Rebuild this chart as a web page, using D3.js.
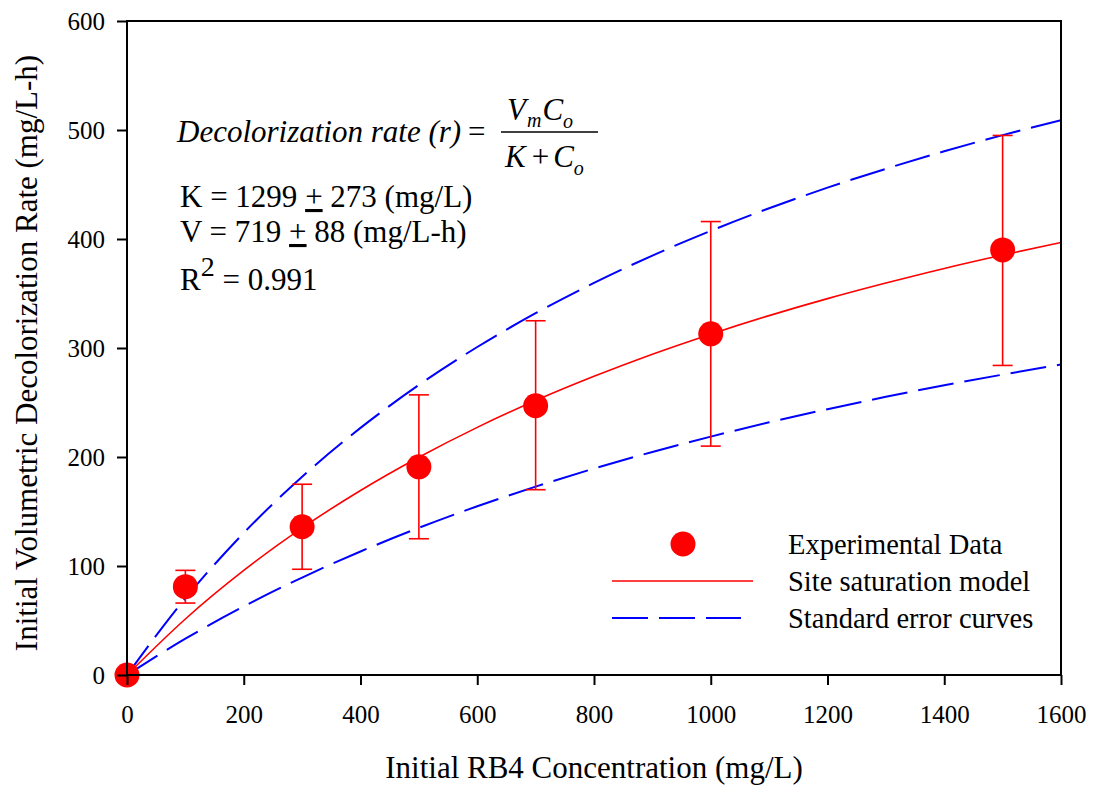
<!DOCTYPE html>
<html>
<head>
<meta charset="utf-8">
<script src="https://cdn.jsdelivr.net/npm/d3@7"></script>
<style>
  body { margin: 0; background: #fff; }
  text { font-family: "Liberation Serif", "Times New Roman", serif; fill: #000; }
</style>
</head>
<body>
<div id="chart"></div>
<script>
// experimental points
const conc = [0, 100, 300, 500, 700, 1000, 1500];
const rate = [0, 81, 136, 191, 247, 313, 390];
const errLow = [0, 66, 97, 125, 170, 210, 284];
const errHigh = [0, 96, 175, 257, 325, 416, 495];

// curves, sampled every 100 mg/L
const curveX = [0, 100, 200, 300, 400, 500, 600, 700, 800, 900, 1000, 1100, 1200, 1300, 1400, 1500, 1600];
const modelY = [0, 51.4, 95.9, 134.9, 169.3, 199.8, 227.2, 251.8, 274.0, 294.3, 312.7, 329.7, 345.3, 359.6, 373.0, 385.3, 396.8];
const upperY = [0, 70.4, 130.3, 181.9, 226.7, 266.1, 300.9, 331.9, 359.7, 384.8, 407.5, 428.2, 447.1, 464.4, 480.5, 495.3, 508.9];
const lowerY = [0, 33.3, 62.9, 89.4, 113.3, 135.0, 154.8, 172.8, 189.4, 204.6, 218.7, 231.8, 243.9, 255.2, 265.8, 275.6, 284.9];

const xTicks = [0, 200, 400, 600, 800, 1000, 1200, 1400, 1600];
const yTicks = [0, 100, 200, 300, 400, 500, 600];

const width = 1098, height = 785;
const margin = {left: 127, right: 37, top: 21, bottom: 110};

const svg = d3.select("#chart").append("svg")
    .attr("width", width)
    .attr("height", height);

const x = d3.scaleLinear().domain([0, 1600]).range([margin.left, width - margin.right]);
const y = d3.scaleLinear().domain([0, 600]).range([height - margin.bottom, margin.top]);

// clip for curves
svg.append("clipPath").attr("id", "clip")
  .append("rect")
    .attr("x", x(0)).attr("y", y(600))
    .attr("width", x(1600) - x(0)).attr("height", y(0) - y(600));

const line = d3.line()
    .x(d => x(d[0]))
    .y(d => y(d[1]))
    .curve(d3.curveMonotoneX);

const plot = svg.append("g").attr("clip-path", "url(#clip)");

plot.append("path")
    .datum(curveX.map((c, i) => [c, upperY[i]]))
    .attr("d", line)
    .attr("fill", "none").attr("stroke", "#0000ff").attr("stroke-width", 2)
    .attr("stroke-dasharray", "36,11");

plot.append("path")
    .datum(curveX.map((c, i) => [c, lowerY[i]]))
    .attr("d", line)
    .attr("fill", "none").attr("stroke", "#0000ff").attr("stroke-width", 2)
    .attr("stroke-dasharray", "36,11");

plot.append("path")
    .datum(curveX.map((c, i) => [c, modelY[i]]))
    .attr("d", line)
    .attr("fill", "none").attr("stroke", "#ff0000").attr("stroke-width", 1.6);

// error bars
const pts = conc.map((c, i) => ({c: c, r: rate[i], lo: errLow[i], hi: errHigh[i]}));
const eb = svg.append("g").attr("stroke", "#ff0000").attr("stroke-width", 1.6);
pts.filter(d => d.hi > d.lo).forEach(d => {
  eb.append("line").attr("x1", x(d.c)).attr("x2", x(d.c)).attr("y1", y(d.lo)).attr("y2", y(d.hi));
  eb.append("line").attr("x1", x(d.c) - 10).attr("x2", x(d.c) + 10).attr("y1", y(d.lo)).attr("y2", y(d.lo));
  eb.append("line").attr("x1", x(d.c) - 10).attr("x2", x(d.c) + 10).attr("y1", y(d.hi)).attr("y2", y(d.hi));
});

svg.append("g").selectAll("circle")
  .data(pts)
  .join("circle")
    .attr("cx", d => x(d.c))
    .attr("cy", d => y(d.r))
    .attr("r", 12.5)
    .attr("fill", "#ff0000");

// frame + axes
svg.append("rect")
    .attr("x", x(0)).attr("y", y(600))
    .attr("width", x(1600) - x(0)).attr("height", y(0) - y(600))
    .attr("fill", "none").attr("stroke", "#000").attr("stroke-width", 2);

const xAxis = svg.append("g")
    .attr("transform", `translate(0,${y(0)})`)
    .call(d3.axisBottom(x).tickValues(xTicks).tickSize(10).tickPadding(20).tickFormat(d3.format("d")));
const yAxis = svg.append("g")
    .attr("transform", `translate(${x(0)},0)`)
    .call(d3.axisLeft(y).tickValues(yTicks).tickSize(10).tickPadding(12).tickFormat(d3.format("d")));

[xAxis, yAxis].forEach(a => {
  a.select(".domain").remove();
  a.selectAll(".tick line").attr("stroke", "#000").attr("stroke-width", 2);
  a.selectAll(".tick text")
    .style("font-family", '"Liberation Serif", serif')
    .style("font-size", "25px")
    .attr("fill", "#000");
});

// axis titles
svg.append("text")
    .attr("x", (x(0) + x(1600)) / 2)
    .attr("y", 778)
    .attr("text-anchor", "middle")
    .style("font-size", "31px")
    .text("Initial RB4 Concentration (mg/L)");

svg.append("text")
    .attr("transform", `translate(37,${(y(0) + y(600)) / 2 + 5}) rotate(-90)`)
    .attr("text-anchor", "middle")
    .style("font-size", "31px")
    .text("Initial Volumetric Decolorization Rate (mg/L-h)");

// equation
const eq = svg.append("g").style("font-size", "31px");
eq.append("text")
    .attr("x", 177).attr("y", 142)
    .style("font-style", "italic")
    .text("Decolorization rate (r)");
eq.append("text")
    .attr("x", 468).attr("y", 142)
    .text("=");
const num = eq.append("text").attr("x", 507).attr("y", 120).style("font-style", "italic");
num.append("tspan").text("V");
num.append("tspan").attr("dy", 7).attr("dx", 1).style("font-size", "20px").text("m");
num.append("tspan").attr("dy", -7).attr("dx", 1).text("C");
num.append("tspan").attr("dy", 8).style("font-size", "20px").text("o");
eq.append("line")
    .attr("x1", 501).attr("x2", 598).attr("y1", 132).attr("y2", 132)
    .attr("stroke", "#000").attr("stroke-width", 1.5);
const den = eq.append("text").attr("x", 505).attr("y", 167).style("font-style", "italic");
den.append("tspan").text("K");
den.append("tspan").style("font-style", "normal").attr("dx", 6).text("+");
den.append("tspan").attr("dx", 4).text("C");
den.append("tspan").attr("dy", 8).style("font-size", "20px").text("o");

const kLine = eq.append("text").attr("x", 180).attr("y", 207);
kLine.append("tspan").text("K = 1299 ");
kLine.append("tspan").style("text-decoration", "underline").text("+");
kLine.append("tspan").text(" 273 (mg/L)");

const vLine = eq.append("text").attr("x", 180).attr("y", 242);
vLine.append("tspan").text("V = 719 ");
vLine.append("tspan").style("text-decoration", "underline").text("+");
vLine.append("tspan").text(" 88 (mg/L-h)");

const rLine = eq.append("text").attr("x", 180).attr("y", 290);
rLine.append("tspan").text("R");
rLine.append("tspan").attr("dy", -14).style("font-size", "28px").text("2");
rLine.append("tspan").attr("dy", 14).text(" = 0.991");

// legend
const leg = svg.append("g");
leg.append("circle").attr("cx", 683).attr("cy", 544).attr("r", 12.5).attr("fill", "#ff0000");
leg.append("line").attr("x1", 612).attr("x2", 753).attr("y1", 581).attr("y2", 581)
    .attr("stroke", "#ff0000").attr("stroke-width", 1.6);
leg.append("line").attr("x1", 612).attr("x2", 741).attr("y1", 618).attr("y2", 618)
    .attr("stroke", "#0000ff").attr("stroke-width", 2).attr("stroke-dasharray", "36,11");
const legLabels = ["Experimental Data", "Site saturation model", "Standard error curves"];
leg.selectAll("text.lab")
  .data(legLabels)
  .join("text")
    .attr("class", "lab")
    .attr("x", 788)
    .attr("y", (d, i) => 554 + i * 37)
    .style("font-size", "28.5px")
    .text(d => d);
</script>
</body>
</html>
